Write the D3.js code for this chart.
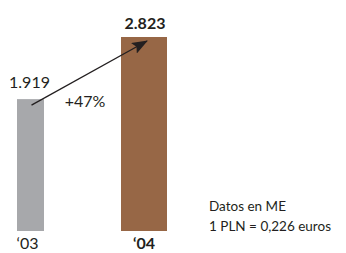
<!DOCTYPE html>
<html><head><meta charset="utf-8">
<script src="https://cdn.jsdelivr.net/npm/d3@7"></script>
<style>body{margin:0;background:#fff}svg{display:block}text{font-family:Lato,"Open Sans",sans-serif}</style>
</head><body>
<svg id="c" width="346" height="253"></svg>
<script>
const categories = ["‘03", "‘04"];
const values = [1919, 2823];
const valueLabels = ["1.919", "2.823"];
const growthLabel = "+47%";
const noteLines = ["Datos en ME", "1 PLN = 0,226 euros"];

const colors = ["#a7a8ab", "#976746"];
const barWidths = [27, 46];
const bold = [false, true];

const svg = d3.select("#c");
const x = d3.scalePoint().domain(categories).range([30.5, 144]);
const y = d3.scaleLinear().domain([0, 2823]).range([231, 37]);

svg.selectAll("rect.bar").data(categories).join("rect")
  .attr("x", (d, i) => x(d) - barWidths[i] / 2)
  .attr("width", (d, i) => barWidths[i])
  .attr("y", (d, i) => y(values[i]))
  .attr("height", (d, i) => y(0) - y(values[i]))
  .attr("fill", (d, i) => colors[i]);

// value labels
svg.selectAll("text.val").data(categories).join("text")
  .attr("x", (d, i) => i === 0 ? x(d) - 1 : x(d) + 1)
  .attr("y", (d, i) => y(values[i]) - (i === 0 ? 11 : 8))
  .attr("text-anchor", "middle")
  .attr("font-size", 16)
  .attr("font-weight", (d, i) => bold[i] ? "bold" : "normal")
  .attr("fill", "#231f20")
  .text((d, i) => valueLabels[i]);

// category labels
svg.selectAll("text.cat").data(categories).join("text")
  .attr("x", (d, i) => x(d) - (i === 0 ? 3 : 0))
  .attr("y", 249)
  .attr("text-anchor", "middle")
  .attr("font-size", 16)
  .attr("font-weight", (d, i) => bold[i] ? "bold" : "normal")
  .attr("fill", "#231f20")
  .text(d => d);

// arrow
svg.append("defs").append("marker")
  .attr("id", "ah").attr("viewBox", "0 0 16 12")
  .attr("refX", 15).attr("refY", 6)
  .attr("markerWidth", 16).attr("markerHeight", 12)
  .attr("markerUnits", "userSpaceOnUse")
  .attr("orient", "auto")
  .append("path").attr("d", "M0,0 L16,6 L0,12 L3,6 Z").attr("fill", "#231f20");

const x0 = x(categories[0]) + 1, y0 = y(values[0]) + 6;
const x1 = x(categories[1]) + 3, y1 = y(values[1]) + 4;
svg.append("line")
  .attr("x1", x0).attr("y1", y0).attr("x2", x1).attr("y2", y1)
  .attr("stroke", "#231f20").attr("stroke-width", 1.3)
  .attr("marker-end", "url(#ah)");

svg.append("text")
  .attr("x", 85).attr("y", 107)
  .attr("text-anchor", "middle")
  .attr("font-size", 16)
  .attr("fill", "#231f20")
  .text(growthLabel);

svg.selectAll("text.note").data(noteLines).join("text")
  .attr("x", 209).attr("y", (d, i) => 211 + i * 20)
  .attr("font-size", 13.5)
  .attr("fill", "#231f20")
  .text(d => d);
</script>
</body></html>
